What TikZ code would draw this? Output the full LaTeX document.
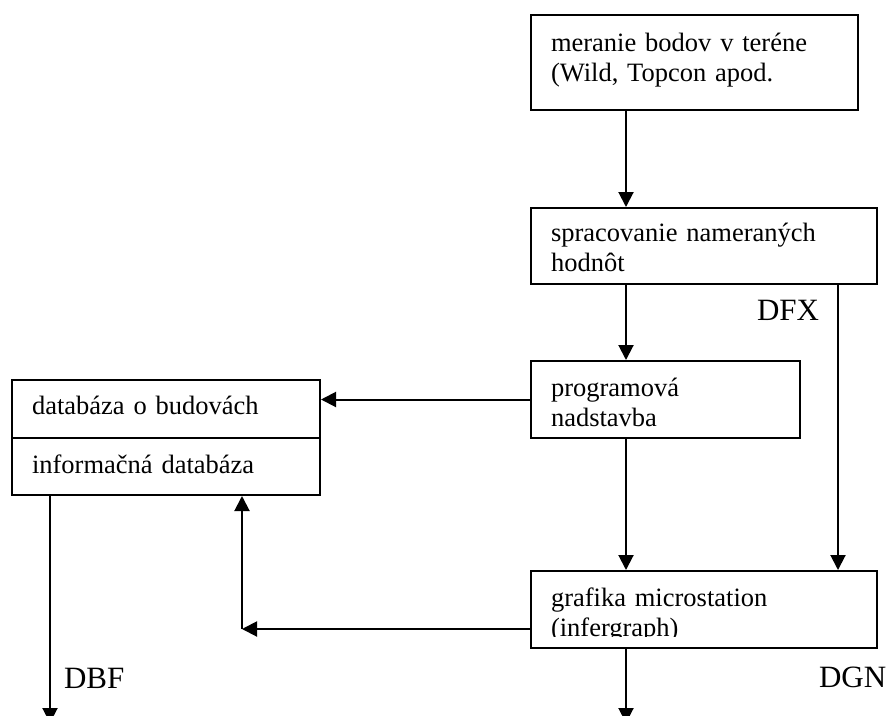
\documentclass[tikz,border=0pt]{standalone}
\usepackage{fontspec}
\setmainfont{Liberation Serif}
\usetikzlibrary{arrows.meta}

\begin{document}
\begin{tikzpicture}[x=1pt,y=-1pt,line width=2pt,
        blok/.style={draw,anchor=north west,inner xsep=20pt,inner ysep=0pt,align=left,
            font=\fontsize{26.5}{30}\selectfont},
        sip/.style={-{Triangle[length=15pt,width=15pt]}},
        popis/.style={anchor=base west,inner sep=0pt,font=\fontsize{31}{36}\selectfont}]
        \useasboundingbox (0,0) rectangle (888,715);

        \node [blok,text width=287pt,text height=36pt,text depth=59pt] (meranie) at (530,14) {meranie bodov v teréne\\(Wild, Topcon apod.};
        \node [blok,text width=306pt,text height=33pt,text depth=43pt] (spracovanie) at (530,207) {spracovanie nameraných\\hodnôt};
        \node [blok,text width=229pt,text height=35pt,text depth=42pt] (programova) at (530,360) {programová\\nadstavba};
        \node [blok,text width=306pt,text height=35pt,text depth=42pt] (grafika) at (530,570) {grafika microstation\\(infergraph)};
        % textove pole v povodnom obrazku oreze spodok druheho riadku
        \fill [white] ([xshift=2pt,yshift=12pt]grafika.south west) rectangle ([xshift=-2pt,yshift=2.1pt]grafika.south east);

        \node [blok,text width=268pt,text height=34pt,text depth=24pt] (budovy) at (11,379) {databáza o budovách};
        \node [blok,text width=268pt,text height=35pt,text depth=22pt] (infodb) at (11,437) {informačná databáza};

        \draw [sip] ([xshift=96pt]meranie.south west) -- ([xshift=96pt]spracovanie.north west);
        \draw [sip] ([xshift=96pt]spracovanie.south west) -- ([xshift=96pt]programova.north west);
        \draw [sip] ([xshift=96pt]programova.south west) -- ([xshift=96pt]grafika.north west);
        \draw [sip] ([xshift=308pt]spracovanie.south west) -- ([xshift=308pt]grafika.north west);
        \draw [sip] (programova.west) -- (programova.west -| budovy.east);

        \coordinate (koleno) at (242,629);
        \coordinate (dbfkoniec) at (50,723);
        \coordinate (dgnkoniec) at (626,723);
        \draw [sip] (koleno -| grafika.west) -- (koleno);
        \draw [sip] (koleno) -- (koleno |- infodb.south);
        \draw [sip] (dbfkoniec |- infodb.south) -- (dbfkoniec);
        \draw [sip] (dgnkoniec |- grafika.south) -- (dgnkoniec);

        \node [popis] (dfx) at (756,320) {DFX};
        \node [popis] (dgn) at (818,687) {DGN};
        \node [popis] (dbf) at (63,688) {DBF};
\end{tikzpicture}
\end{document}
